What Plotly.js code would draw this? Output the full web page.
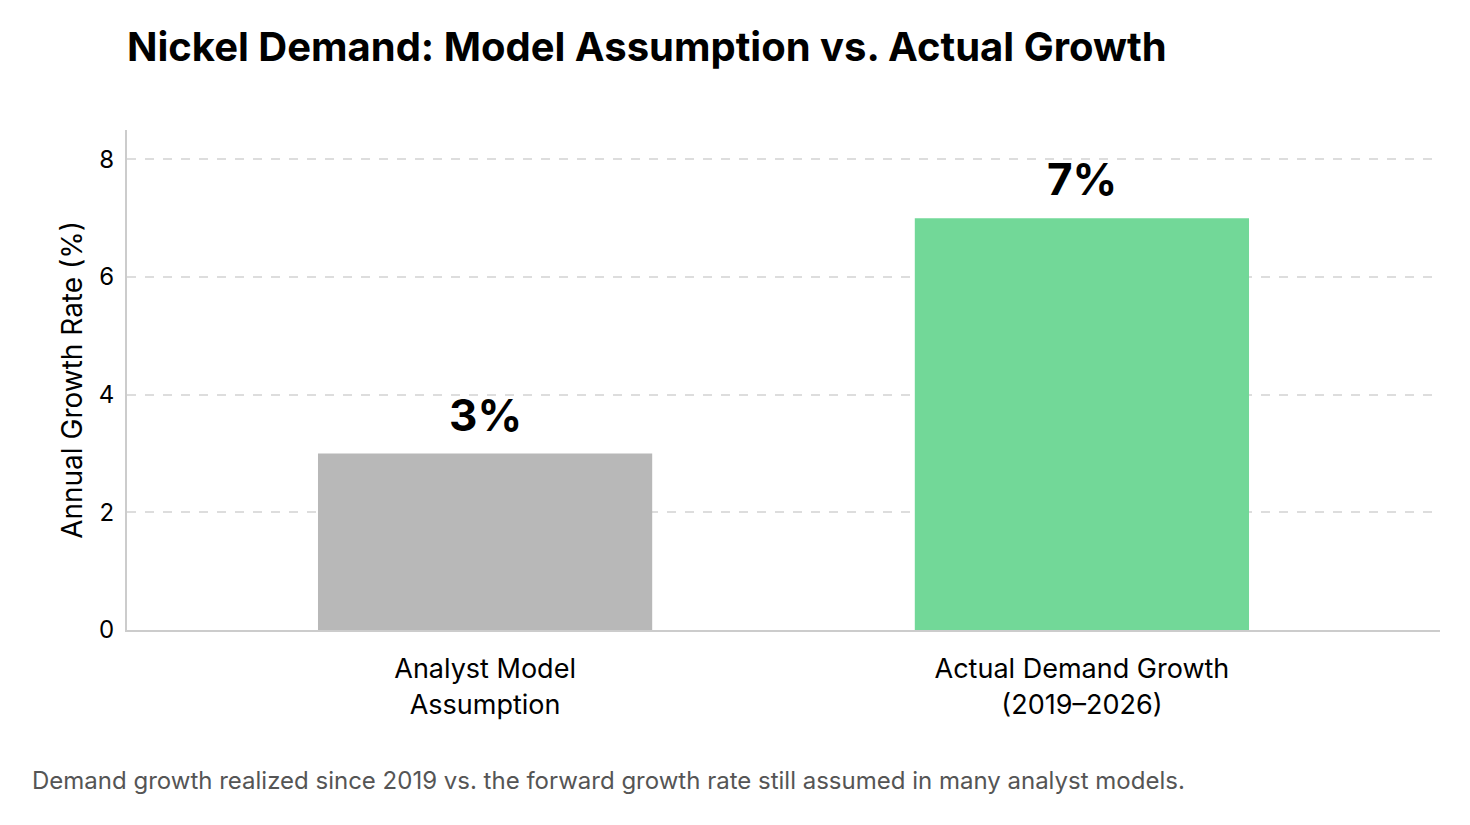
<!DOCTYPE html>
<html>
<head>
<meta charset="utf-8">
<script src="https://cdn.plot.ly/plotly-3.0.1.min.js"></script>
<style>
  html, body { margin: 0; padding: 0; background: #ffffff; }
  #chart { width: 1470px; height: 825px; }
</style>
</head>
<body>
<div id="chart"></div>
<script>
const categories = ['Analyst Model<br>Assumption', 'Actual Demand Growth<br>(2019–2026)'];
const growthRates = [3, 7];
const valueLabels = ['3%', '7%'];
const barColors = ['#b8b8b8', '#72d898'];

const fontFamily = 'Inter, "Noto Sans", sans-serif';

const trace = {
  x: categories,
  y: growthRates,
  type: 'bar',
  width: 0.56,
  marker: { color: barColors },
  hoverinfo: 'skip'
};

const valueNotes = categories.map((c, i) => ({
  x: c,
  y: growthRates[i],
  text: '<b>' + valueLabels[i] + '</b>',
  showarrow: false,
  yanchor: 'bottom',
  yshift: 10,
  font: { family: fontFamily, size: 44, color: '#000000' }
}));

const layout = {
  width: 1470,
  height: 825,
  margin: { l: 127, r: 30, t: 130, b: 195 },
  paper_bgcolor: '#ffffff',
  plot_bgcolor: '#ffffff',
  showlegend: false,
  font: { family: fontFamily, color: '#000000' },
  title: {
    text: '<b>Nickel Demand: Model Assumption vs. Actual Growth</b>',
    font: { family: fontFamily, size: 40, color: '#000000' },
    x: 127 / 1470,
    xanchor: 'left',
    y: 1 - 47 / 825,
    yanchor: 'middle'
  },
  xaxis: {
    range: [-0.6, 1.6],
    showline: true,
    linecolor: '#cccccc',
    linewidth: 2,
    ticks: '',
    ticklabelstandoff: 14,
    showgrid: false,
    tickfont: { family: fontFamily, size: 27, color: '#000000' }
  },
  yaxis: {
    range: [0, 8.5],
    tickvals: [0, 2, 4, 6, 8],
    showline: true,
    linecolor: '#cccccc',
    linewidth: 2,
    ticks: '',
    ticklen: 0,
    ticklabelstandoff: 6,
    showgrid: true,
    gridcolor: '#dddddd',
    gridwidth: 2,
    griddash: 'dash',
    zeroline: false,
    tickfont: { family: fontFamily, size: 24, color: '#000000' },
    title: {
      text: 'Annual Growth Rate (%)',
      font: { family: fontFamily, size: 28, color: '#000000' },
      standoff: 8
    }
  },
  annotations: valueNotes.concat([{
    text: 'Demand growth realized since 2019 vs. the forward growth rate still assumed in many analyst models.',
    xref: 'paper',
    yref: 'paper',
    x: -97 / 1313,
    xanchor: 'left',
    y: -(780 - 630) / 500,
    yanchor: 'middle',
    showarrow: false,
    font: { family: fontFamily, size: 24, color: '#555555' }
  }])
};

Plotly.newPlot('chart', [trace], layout, { displayModeBar: false, responsive: false });
</script>
</body>
</html>
